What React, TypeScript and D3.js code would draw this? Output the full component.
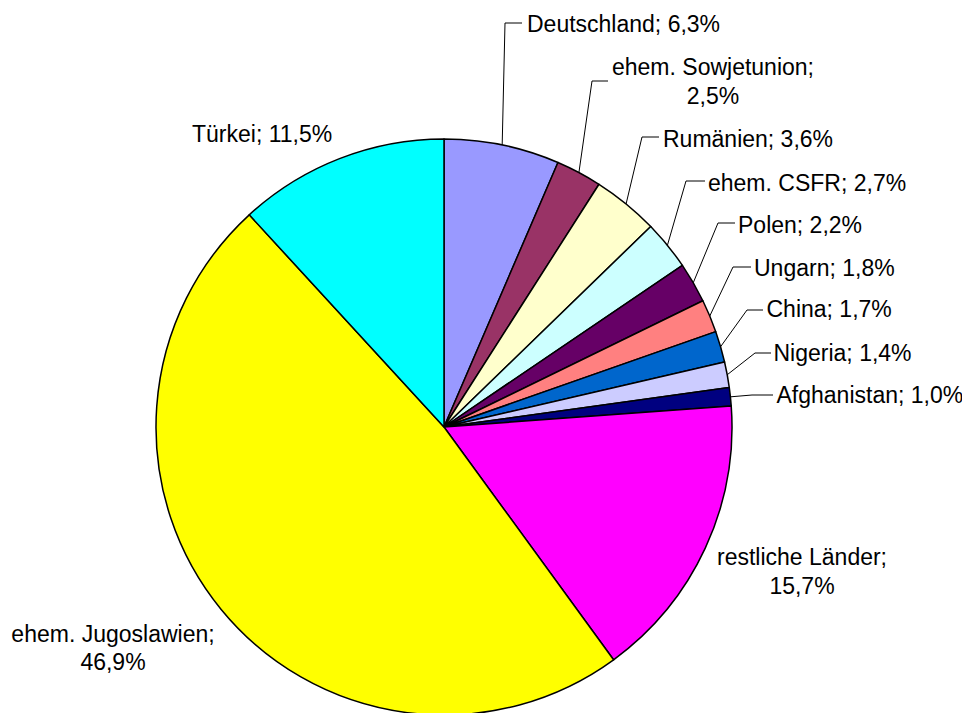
import React from "react";
import * as d3 from "d3";

const categories = [
  "Deutschland",
  "ehem. Sowjetunion",
  "Rumänien",
  "ehem. CSFR",
  "Polen",
  "Ungarn",
  "China",
  "Nigeria",
  "Afghanistan",
  "restliche Länder",
  "ehem. Jugoslawien",
  "Türkei",
];
const values = [6.3, 2.5, 3.6, 2.7, 2.2, 1.8, 1.7, 1.4, 1.0, 15.7, 46.9, 11.5];
const colors = [
  "#9999FF",
  "#993366",
  "#FFFFCC",
  "#CCFFFF",
  "#660066",
  "#FF8080",
  "#0066CC",
  "#CCCCFF",
  "#000080",
  "#FF00FF",
  "#FFFF00",
  "#00FFFF",
];

// label layout (text position + optional leader bend), keyed by category index
type LabelLayout = {
  x: number;
  y: number;
  anchor: "start" | "middle" | "end";
  split: boolean;
  leader?: { bx: number; by: number; ex: number };
};
const labelLayout: LabelLayout[] = [
  { x: 527, y: 31.5, anchor: "start", split: false, leader: { bx: 505, by: 23, ex: 522 } },
  { x: 713, y: 75, anchor: "middle", split: true, leader: { bx: 592, by: 81, ex: 608 } },
  { x: 663, y: 146.5, anchor: "start", split: false, leader: { bx: 642, by: 137, ex: 659 } },
  { x: 708, y: 190.5, anchor: "start", split: false, leader: { bx: 686, by: 181, ex: 705 } },
  { x: 738, y: 232.5, anchor: "start", split: false, leader: { bx: 718, by: 223, ex: 735 } },
  { x: 754, y: 276, anchor: "start", split: false, leader: { bx: 733, by: 267, ex: 751 } },
  { x: 766.5, y: 317, anchor: "start", split: false, leader: { bx: 747, by: 310, ex: 763 } },
  { x: 773.5, y: 360.5, anchor: "start", split: false, leader: { bx: 755, by: 353, ex: 771 } },
  { x: 776.5, y: 402.5, anchor: "start", split: false, leader: { bx: 752, by: 395, ex: 773 } },
  { x: 802, y: 565, anchor: "middle", split: true },
  { x: 113, y: 641.5, anchor: "middle", split: true },
  { x: 192, y: 141.5, anchor: "start", split: false },
];

const W = 962;
const H = 713;
const cx = 444;
const cy = 427;
const R = 288;
const FONT = 23;
const LINE_H = 28.8;

const fmt = (v: number) => v.toFixed(1).replace(".", ",") + "%";

export default function App() {
  const pie = d3
    .pie<number>()
    .sort(null)
    .value((d) => d)
    .startAngle(0)
    .endAngle(2 * Math.PI);
  const arcs = pie(values);
  const arcGen = d3.arc<d3.PieArcDatum<number>>().innerRadius(0).outerRadius(R);

  return (
    <svg
      width={W}
      height={H}
      style={{ position: "absolute", left: 0, top: 0, background: "#fff" }}
      fontFamily="'Liberation Sans', Arial, sans-serif"
    >
      <rect x={0} y={0} width={W} height={H} fill="#fff" />
      <g transform={`translate(${cx},${cy})`}>
        {arcs.map((a, i) => (
          <path
            key={categories[i]}
            d={arcGen(a) || ""}
            fill={colors[i]}
            stroke="#000"
            strokeWidth={1.5}
            strokeLinejoin="round"
          />
        ))}
      </g>
      {arcs.map((a, i) => {
        const L = labelLayout[i];
        const mid = (a.startAngle + a.endAngle) / 2;
        const sx = cx + R * Math.sin(mid);
        const sy = cy - R * Math.cos(mid);
        const text = `${categories[i]}; ${fmt(values[i])}`;
        const lines = L.split ? [`${categories[i]};`, fmt(values[i])] : [text];
        return (
          <g key={"lbl" + i}>
            {L.leader && (
              <polyline
                points={`${sx},${sy} ${L.leader.bx},${L.leader.by} ${L.leader.ex},${L.leader.by}`}
                fill="none"
                stroke="#000"
                strokeWidth={1}
              />
            )}
            <text x={L.x} y={L.y} textAnchor={L.anchor} fontSize={FONT} fill="#000">
              {lines.map((t, k) => (
                <tspan key={k} x={L.x} y={L.y + k * LINE_H}>
                  {t}
                </tspan>
              ))}
            </text>
          </g>
        );
      })}
    </svg>
  );
}
